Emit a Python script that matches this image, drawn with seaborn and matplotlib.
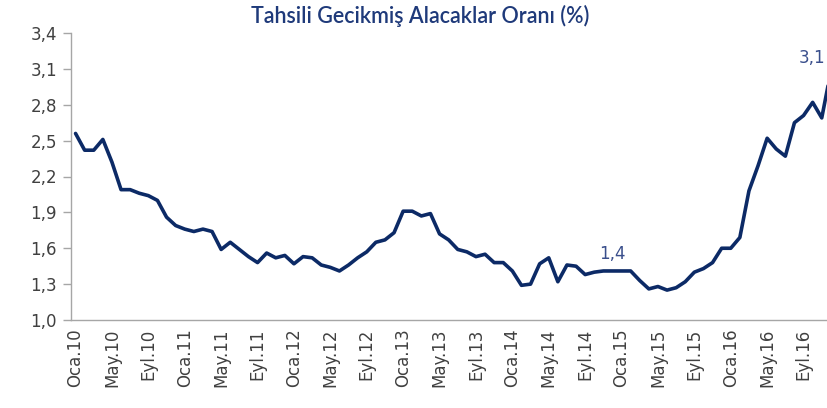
import matplotlib
matplotlib.use("Agg")
import matplotlib.pyplot as plt
import seaborn as sns
import pandas as pd
import numpy as np

title = "Tahsili Gecikmiş Alacaklar Oranı (%)"

months = ["Oca", "Şub", "Mar", "Nis", "May", "Haz", "Tem", "Ağu", "Eyl", "Eki", "Kas", "Ara"]
years = ["10", "11", "12", "13", "14", "15", "16"]
periods = [f"{m}.{y}" for y in years for m in months]

values = [
    2.56, 2.42, 2.42, 2.51, 2.32, 2.09, 2.09, 2.06, 2.04, 2.00, 1.86, 1.79,
    1.76, 1.74, 1.76, 1.74, 1.59, 1.65, 1.59, 1.53, 1.48, 1.56, 1.52, 1.54,
    1.47, 1.53, 1.52, 1.46, 1.44, 1.41, 1.46, 1.52, 1.57, 1.65, 1.67, 1.73,
    1.91, 1.91, 1.87, 1.89, 1.72, 1.67, 1.59, 1.57, 1.53, 1.55, 1.48, 1.48,
    1.41, 1.29, 1.30, 1.47, 1.52, 1.32, 1.46, 1.45, 1.38, 1.40, 1.41, 1.41,
    1.41, 1.41, 1.33, 1.26, 1.28, 1.25, 1.27, 1.32, 1.40, 1.43, 1.48, 1.60,
    1.60, 1.69, 2.08, 2.29, 2.52, 2.43, 2.37, 2.65, 2.71, 2.82, 2.69, 3.08,
]

tick_labels = periods[::4]
y_ticks = [1.0, 1.3, 1.6, 1.9, 2.2, 2.5, 2.8, 3.1, 3.4]
annotations = {"1,4": 59, "3,1": 83}

df = pd.DataFrame({"idx": np.arange(len(values)), "value": values})

sns.set_theme(style="white")
plt.rcParams["font.family"] = ["DejaVu Sans"]

fig = plt.figure(figsize=(8.28, 4.08), dpi=100)
ax = fig.add_axes([71 / 828, 88 / 408, 1 - 71 / 828, (320 - 33) / 408])

line_color = "#0c2a66"
sns.lineplot(data=df, x="idx", y="value", ax=ax, color=line_color, linewidth=2.6,
             solid_joinstyle="round", solid_capstyle="round")

ax.set_xlim(-0.5, -0.5 + (828 - 71) / 9.1)
ax.set_ylim(1.0, 3.4)
ax.set_xlabel("")
ax.set_ylabel("")

# Category labels at category centres, tick marks between categories
label_pos = list(range(0, len(values), 4))
ax.set_xticks(label_pos)
ax.set_xticklabels(tick_labels, rotation=90, fontsize=12, color="#404040")
ax.set_xticks([p - 0.5 for p in label_pos], minor=True)
ax.tick_params(axis="x", which="major", length=0, pad=6)
ax.tick_params(axis="x", which="minor", length=6, width=1, color="#a6a6a6", direction="out")

ax.set_yticks(y_ticks)
ax.set_yticklabels([f"{v:.1f}".replace(".", ",") for v in y_ticks], fontsize=12, color="#404040")
ax.tick_params(axis="y", length=6, width=1, color="#a6a6a6", direction="out", pad=4, left=True)

for s in ["top", "right"]:
    ax.spines[s].set_visible(False)
for s in ["left", "bottom"]:
    ax.spines[s].set_color("#a6a6a6")
    ax.spines[s].set_linewidth(1)
ax.grid(False)

ax.annotate("1,4", xy=(annotations["1,4"], values[annotations["1,4"]]), xytext=(0, 6),
            textcoords="offset points", ha="center", va="bottom", fontsize=12, color="#3a4f8c")
ax.annotate("3,1", xy=(annotations["3,1"], values[annotations["3,1"]]), xytext=(-4, 3),
            textcoords="offset points", ha="right", va="bottom", fontsize=12, color="#3a4f8c",
            annotation_clip=False)

fig.text(0.508, 0.962, title, ha="center", va="center", fontsize=15.5,
         color="#1f3a7a", family=["Lato", "DejaVu Sans"], fontweight="semibold")

fig.savefig("out.png", dpi=100)
